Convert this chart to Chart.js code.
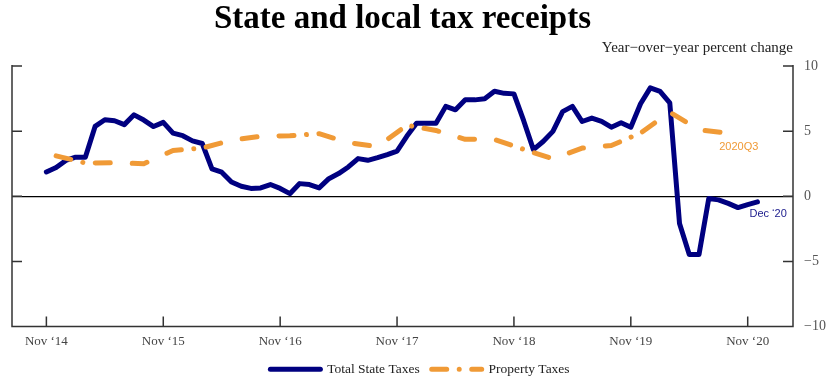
<!DOCTYPE html>
<html>
<head>
<meta charset="utf-8">
<script src="https://cdn.jsdelivr.net/npm/chart.js@4.4.0/dist/chart.umd.min.js"></script>
<style>
  html, body { margin: 0; padding: 0; background: #fff; }
  #chart { display: block; }
</style>
</head>
<body>
<canvas id="chart" width="840" height="383"></canvas>
<script>
// Total state taxes, monthly, Nov 2014 .. Dec 2020
const stateTaxes = [
  1.86, 2.2, 2.75, 3.0, 3.0, 5.36, 5.87, 5.8, 5.5, 6.25, 5.85, 5.35,
  5.67, 4.85, 4.65, 4.25, 4.05, 2.1, 1.85, 1.1, 0.77, 0.6, 0.64, 0.9,
  0.6, 0.2, 0.97, 0.9, 0.64, 1.35, 1.74, 2.25, 2.89, 2.76, 2.96, 3.2,
  3.47, 4.6, 5.6, 5.6, 5.6, 6.9, 6.64, 7.4, 7.4, 7.48, 8.06, 7.9,
  7.86, 5.8, 3.58, 4.2, 4.98, 6.5, 6.9, 5.74, 6.0, 5.75, 5.3, 5.64,
  5.3, 7.1, 8.32, 8.06, 7.17, -2.09, -4.47, -4.47, -0.18, -0.28, -0.55, -0.87,
  -0.64, -0.43
];
// Property taxes, quarterly, 2014Q4 .. 2020Q3 (plotted at the quarter's last month)
const propertyTaxes = [
  3.1, 2.55, 2.58, 2.5, 3.52, 3.7, 4.3, 4.6, 4.65, 4.8, 4.12, 3.8,
  5.45, 5.05, 4.37, 4.36, 3.6, 2.87, 3.7, 3.9, 4.85, 6.46, 5.1, 4.85
];
const tickLabels = ['Nov ‘14', 'Nov ‘15', 'Nov ‘16', 'Nov ‘17', 'Nov ‘18', 'Nov ‘19', 'Nov ‘20'];
const yTicks = [-10, -5, 0, 5, 10];

const NAVY = '#000080';
const ORANGE = '#f09a36';
const SERIF = 'Liberation Serif';

// month index since Nov 2014
const stateData = stateTaxes.map((v, i) => ({ x: i, y: v }));
const propertyData = propertyTaxes.map((v, k) => ({ x: 1 + 3 * k, y: v }));

// frame with inward ticks, subtitle and end labels
const framePlugin = {
  id: 'frame',
  afterDraw(chart) {
    const { ctx, chartArea: a, scales } = chart;
    const x = scales.x, y = scales.y;
    ctx.save();
    ctx.strokeStyle = '#333';
    ctx.lineWidth = 1.5;
    ctx.beginPath();
    ctx.moveTo(a.left, a.top - 1);
    ctx.lineTo(a.left, a.bottom);
    ctx.lineTo(a.right, a.bottom);
    ctx.lineTo(a.right, a.top - 1);
    yTicks.forEach(v => {
      const py = y.getPixelForValue(v);
      ctx.moveTo(a.left, py); ctx.lineTo(a.left + 10, py);
      ctx.moveTo(a.right, py); ctx.lineTo(a.right - 10, py);
    });
    x.ticks.forEach(t => {
      const px = x.getPixelForValue(t.value);
      ctx.moveTo(px, a.bottom); ctx.lineTo(px, a.bottom - 10);
    });
    ctx.stroke();

    ctx.textBaseline = 'middle';
    ctx.textAlign = 'right';
    ctx.fillStyle = '#222';
    ctx.font = '15px "' + SERIF + '"';
    ctx.fillText('Year−over−year percent change', a.right, a.top - 18);

    ctx.textAlign = 'left';
    ctx.font = '11px "Liberation Sans"';
    const last = stateTaxes.length - 1;
    ctx.fillStyle = '#1a1a8c';
    ctx.fillText('Dec ‘20', x.getPixelForValue(last) - 8, y.getPixelForValue(stateTaxes[last]) + 12);
    const lastQ = propertyTaxes.length - 1;
    ctx.fillStyle = ORANGE;
    ctx.fillText('2020Q3', x.getPixelForValue(1 + 3 * lastQ) - 9, y.getPixelForValue(propertyTaxes[lastQ]) + 14);
    ctx.restore();
  }
};

new Chart(document.getElementById('chart'), {
  type: 'line',
  data: {
    datasets: [
      {
        label: 'Total State Taxes',
        data: stateData,
        borderColor: NAVY,
        backgroundColor: NAVY,
        borderWidth: 5,
        pointRadius: 0,
        tension: 0,
        borderJoinStyle: 'round',
        borderCapStyle: 'round',
        order: 2
      },
      {
        label: 'Property Taxes',
        data: propertyData,
        borderColor: ORANGE,
        backgroundColor: ORANGE,
        borderWidth: 5,
        pointRadius: 0,
        tension: 0,
        borderDash: [15, 12.5, 0.01, 12.5, 15, 22, 15, 22],
        borderJoinStyle: 'round',
        borderCapStyle: 'round',
        order: 1
      }
    ]
  },
  options: {
    responsive: false,
    animation: false,
    devicePixelRatio: 1,
    layout: { padding: { left: 0, right: 0, top: 0, bottom: -3 } },
    plugins: {
      title: {
        display: true,
        fullSize: false,
        text: 'State and local tax receipts',
        color: '#000',
        font: { family: SERIF, size: 33, weight: 'bold', lineHeight: 1.2 },
        padding: { top: 0, bottom: 26.4 }
      },
      legend: {
        position: 'bottom',
        labels: {
          usePointStyle: true,
          pointStyle: 'line',
          pointStyleWidth: 50,
          padding: 12,
          color: '#222',
          font: { family: SERIF, size: 13.5 },
          sort: (a, b) => a.datasetIndex - b.datasetIndex,
          generateLabels: chart => {
            const items = Chart.defaults.plugins.legend.labels.generateLabels(chart);
            items.forEach(it => {
              const ds = chart.data.datasets[it.datasetIndex];
              it.lineDash = ds.borderDash || [];
              it.lineWidth = 5;
              it.lineCap = ds.borderCapStyle;
              it.strokeStyle = ds.borderColor;
              it.fillStyle = ds.borderColor;
            });
            return items;
          }
        }
      },
      tooltip: { enabled: false }
    },
    scales: {
      x: {
        type: 'linear',
        min: -3.53,
        max: 76.65,
        afterBuildTicks: s => { s.ticks = tickLabels.map((_, i) => ({ value: i * 12 })); },
        afterFit: s => { s.height = 24; },
        grid: { display: false, drawTicks: false },
        border: { display: false },
        ticks: {
          autoSkip: false,
          maxRotation: 0,
          padding: 7.5,
          color: '#444',
          font: { family: SERIF, size: 13 },
          callback: (v, i) => tickLabels[i]
        }
      },
      yL: {
        position: 'left',
        min: -10,
        max: 10,
        ticks: { display: false },
        grid: { display: false, drawTicks: false },
        border: { display: false },
        afterFit: s => { s.width = 12; }
      },
      y: {
        position: 'right',
        min: -10,
        max: 10,
        afterFit: s => { s.width = 47; },
        border: { display: false },
        grid: {
          drawTicks: false,
          lineWidth: 1.3,
          color: c => (c.tick && c.tick.value === 0 ? '#000' : 'rgba(0,0,0,0)')
        },
        ticks: {
          stepSize: 5,
          padding: 11,
          color: '#555',
          font: { family: SERIF, size: 14 },
          callback: v => (v < 0 ? '−' + Math.abs(v) : String(v))
        }
      }
    }
  },
  plugins: [framePlugin]
});
</script>
</body>
</html>
